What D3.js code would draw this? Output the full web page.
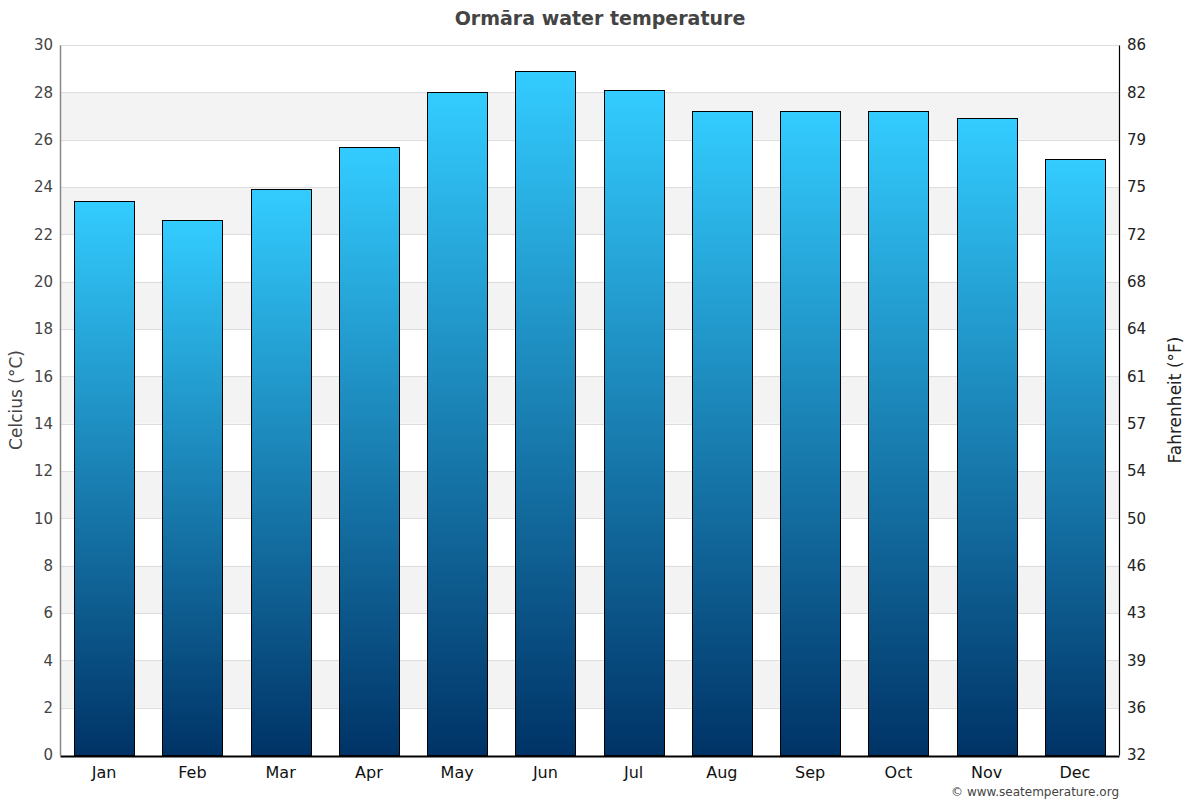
<!DOCTYPE html>
<html>
<head>
<meta charset="utf-8">
<script src="https://cdn.jsdelivr.net/npm/d3@7"></script>
<style>
  body { margin: 0; background: #fff; }
  svg { font-family: "DejaVu Sans", sans-serif; }
</style>
</head>
<body>
<svg id="canvas" width="1200" height="800"></svg>
<script>
const months = ["Jan", "Feb", "Mar", "Apr", "May", "Jun", "Jul", "Aug", "Sep", "Oct", "Nov", "Dec"];
const tempC = [23.4, 22.6, 23.9, 25.7, 28.0, 28.9, 28.1, 27.2, 27.2, 27.2, 26.9, 25.2];
const celsiusTicks = [0, 2, 4, 6, 8, 10, 12, 14, 16, 18, 20, 22, 24, 26, 28, 30];
const fahrenheitLabels = ["32", "36", "39", "43", "46", "50", "54", "57", "61", "64", "68", "72", "75", "79", "82", "86"];

const svg = d3.select("#canvas");

const plotLeft = 60, plotRight = 1119, plotTop = 45, plotBottom = 755;

const x = d3.scaleBand()
  .domain(months)
  .range([plotLeft, plotRight])
  .paddingInner(0.32)
  .paddingOuter(0.16);

const y = d3.scaleLinear()
  .domain([0, 30])
  .range([plotBottom, plotTop]);

// gradient for bars
const grad = svg.append("defs").append("linearGradient")
  .attr("id", "barGrad")
  .attr("x1", 0).attr("y1", 0)
  .attr("x2", 0).attr("y2", 1);
grad.append("stop").attr("offset", "0%").attr("stop-color", "#33ccff");
grad.append("stop").attr("offset", "100%").attr("stop-color", "#003366");

// alternating bands
const bands = celsiusTicks.slice(0, -1).filter((d, i) => i % 2 === 1);
svg.append("g").selectAll("rect")
  .data(bands)
  .join("rect")
  .attr("x", plotLeft)
  .attr("width", plotRight - plotLeft)
  .attr("y", d => y(d + 2))
  .attr("height", d => y(d) - y(d + 2))
  .attr("fill", "#f3f3f3");

// grid lines
svg.append("g").selectAll("line")
  .data(celsiusTicks.slice(1))
  .join("line")
  .attr("x1", plotLeft)
  .attr("x2", plotRight)
  .attr("y1", d => Math.round(y(d)) + 0.5)
  .attr("y2", d => Math.round(y(d)) + 0.5)
  .attr("stroke", "#dddddd")
  .attr("stroke-width", 1);

// bars
svg.append("g").selectAll("rect")
  .data(tempC)
  .join("rect")
  .attr("x", (d, i) => Math.round(x(months[i])) + 0.5)
  .attr("width", Math.round(x.bandwidth()))
  .attr("y", d => Math.round(y(d)) + 0.5)
  .attr("height", d => plotBottom - Math.round(y(d)))
  .attr("fill", "url(#barGrad)")
  .attr("stroke", "#000")
  .attr("stroke-width", 1);

// left axis
const leftAxis = svg.append("g")
  .attr("transform", `translate(${plotLeft},0)`)
  .call(d3.axisLeft(y).tickValues(celsiusTicks).tickSize(0).tickPadding(7));
leftAxis.select(".domain").attr("stroke", "#888").attr("stroke-width", 1.5);
leftAxis.selectAll("text").attr("font-size", 15).attr("fill", "#444")
  .attr("font-family", "DejaVu Sans, sans-serif");

// right axis
const rightAxis = svg.append("g")
  .attr("transform", `translate(${plotRight},0)`)
  .call(d3.axisRight(y).tickValues(celsiusTicks)
    .tickFormat((d, i) => fahrenheitLabels[i]).tickSize(0).tickPadding(8));
rightAxis.select(".domain").attr("stroke", "#000").attr("stroke-width", 1.2);
rightAxis.selectAll("text").attr("font-size", 15).attr("fill", "#222")
  .attr("font-family", "DejaVu Sans, sans-serif");

// bottom axis
const bottomAxis = svg.append("g")
  .attr("transform", `translate(0,${plotBottom + 1})`)
  .call(d3.axisBottom(x).tickSize(0).tickPadding(11));
bottomAxis.select(".domain").attr("stroke", "#000").attr("stroke-width", 2);
bottomAxis.selectAll("text").attr("font-size", 16).attr("fill", "#111")
  .attr("font-family", "DejaVu Sans, sans-serif");

// title
svg.append("text")
  .attr("x", 600)
  .attr("y", 25)
  .attr("text-anchor", "middle")
  .attr("font-size", 19)
  .attr("font-weight", "bold")
  .attr("fill", "#444")
  .text("Ormāra water temperature");

// axis titles
svg.append("text")
  .attr("transform", `translate(22,${(plotTop + plotBottom) / 2}) rotate(-90)`)
  .attr("text-anchor", "middle")
  .attr("font-size", 17)
  .attr("fill", "#444")
  .text("Celcius (°C)");

svg.append("text")
  .attr("transform", `translate(1181,${(plotTop + plotBottom) / 2}) rotate(-90)`)
  .attr("text-anchor", "middle")
  .attr("font-size", 17)
  .attr("fill", "#222")
  .text("Fahrenheit (°F)");

// credit
svg.append("text")
  .attr("x", 1119)
  .attr("y", 796)
  .attr("text-anchor", "end")
  .attr("font-size", 12)
  .attr("fill", "#444")
  .text("© www.seatemperature.org");
</script>
</body>
</html>
